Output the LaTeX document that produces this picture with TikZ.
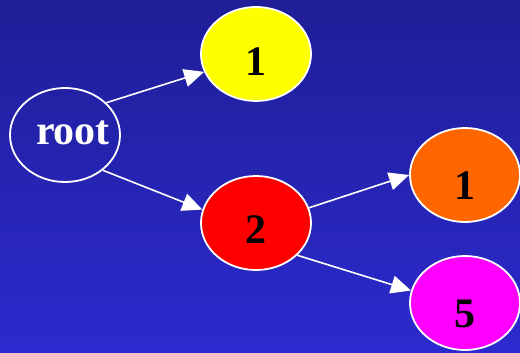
\documentclass[tikz,border=0pt]{standalone}
\usepackage{fontspec}
\setmainfont{Liberation Serif}
\usetikzlibrary{shapes.geometric,arrows.meta}
\definecolor{bgtop}{RGB}{31,30,150}
\definecolor{bgbot}{RGB}{44,42,206}
\definecolor{nyellow}{RGB}{255,255,0}
\definecolor{nred}{RGB}{255,0,0}
\definecolor{norange}{RGB}{255,102,0}
\definecolor{nmagenta}{RGB}{255,0,255}
\begin{document}
\begin{tikzpicture}[x=1pt,y=-1pt,
  tnode/.style={ellipse,draw=white,line width=1.8pt,minimum width=110pt,minimum height=94pt,inner sep=0pt,
    font=\fontsize{42}{42}\selectfont\bfseries,text height=44pt,text depth=0pt},
  edge/.style={draw=white,line width=1.6pt,-{Triangle[length=20pt,width=18pt]}}]
\useasboundingbox (0,0) rectangle (520,353);
\shade[top color=bgtop,bottom color=bgbot] (0,0) rectangle (520,353);
\node[tnode,text=white,text height=20pt] (root) at (65,135) {\makebox[0pt]{\hspace{16pt}root}};
\node[tnode,fill=nyellow] (a) at (256,54) {1};
\node[tnode,fill=nred,text height=40pt] (b) at (256,223) {2};
\node[tnode,fill=norange,text height=48pt] (c) at (465,175) {1};
\node[tnode,fill=nmagenta,text height=48pt] (d) at (465,303) {5};
\draw[edge] (root.38) -- (a.199);
\draw[edge] (root.-43) -- (b.166);
\draw[edge] (b.16) -- (c.180);
\draw[edge] (b.-38) -- (d.167);
\end{tikzpicture}
\end{document}
